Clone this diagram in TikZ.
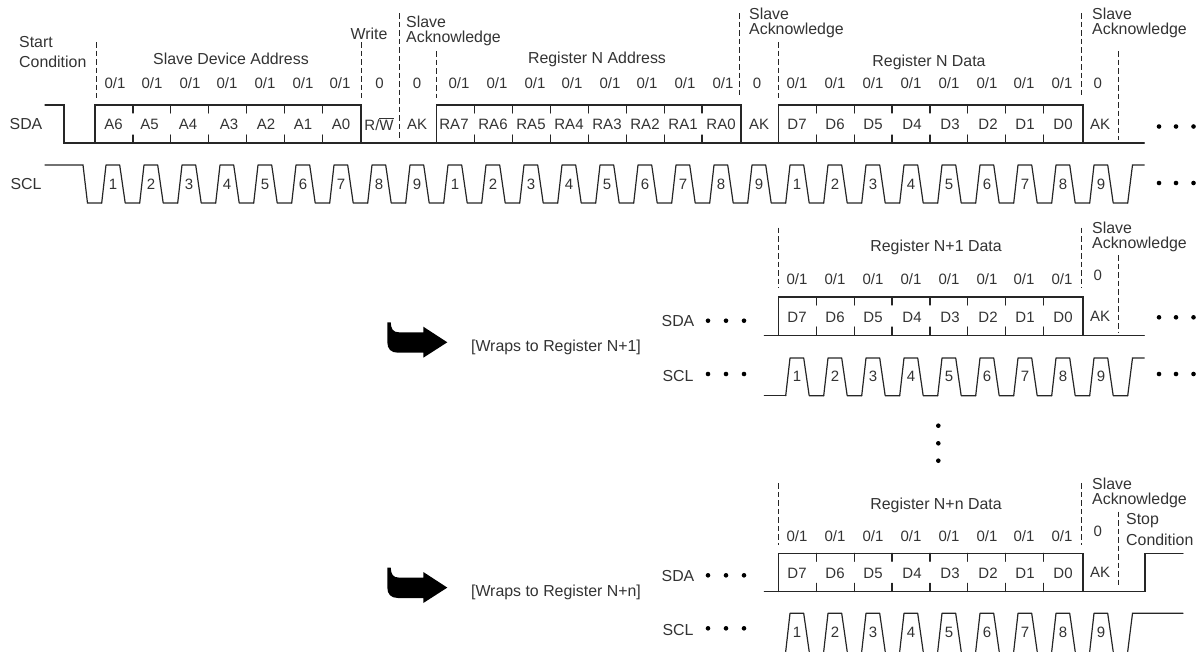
\documentclass[tikz,border=0pt]{standalone}
\usepackage{fontspec}
\setmainfont{Liberation Sans}
\begin{document}
\begin{tikzpicture}[
    x=1pt,y=-1pt,
    wave/.style={line width=1.2pt,black!85,line cap=round},
    guide/.style={line width=.8pt,black!85,dash pattern=on 5.5pt off 3pt},
    lbl/.style={inner sep=0pt,text=black!80,font=\fontsize{15}{15}\selectfont},
    head/.style={inner sep=0pt,text=black!80,font=\fontsize{15.9}{15.9}\selectfont},
    ack/.style={head,anchor=west},
    dot/.style={circle,fill=black,inner sep=0pt,minimum size=4.6pt}
  ]
    \useasboundingbox (0,0) rectangle (1196,651);

    % SDA framed bytes: left/right edge, number of ticks, high level
    \foreach \l/\r/\n/\hi in {95/361/6/105,436.7/741/7/105,778.3/1083/7/105,778.3/1083/7/297,778.3/1083/7/553.3} {
      \draw[wave] (\l,\hi+38.2)--(\l,\hi)--(\r,\hi)--(\r,\hi+38.2);
      \foreach \i in {1,...,\n} {
        \draw[wave] (\l+37.9*\i,\hi)--++(0,8);
        \draw[wave] (\l+37.9*\i,\hi+30)--++(0,8.2);
      }
    }
    \draw[wave] (45,105)--(64,105)--(64,143)--(1144.3,143);
    \draw[wave] (764.3,335.7)--(1144.3,335.7);
    \draw[wave] (764.3,591.7)--(1145,591.7)--(1145,553.3)--(1183,553.3);

    % SCL clocks
    \draw[wave] (45,165)--(83,165)--(87.5,203)--(101.7,203);
    \foreach \n [count=\k from 0] in {1,2,3,4,5,6,7,8,9,1,2,3,4,5,6,7,8,9,1,2,3,4,5,6,7,8,9} {
      \pgfmathsetmacro{\xa}{101.7+38*\k}
      \draw[wave,line join=round] (\xa,203)--(\xa+4.3,165)--(\xa+18,165)--(\xa+23.5,203)--(\xa+38,203);
      \node[lbl] (clka\k) at (\xa+11.3,184.5) {\n};
    }
    \draw[wave] (1127.7,203)--(1132.5,165)--(1144.3,165);
    \draw[wave] (764.3,395.7)--(785.7,395.7);
    \foreach \n [count=\k from 0] in {1,...,9} {
      \pgfmathsetmacro{\xa}{785.7+38*\k}
      \draw[wave,line join=round] (\xa,395.7)--(\xa+4.3,358)--(\xa+18,358)--(\xa+23.5,395.7)--(\xa+38,395.7);
      \node[lbl] (clkb\k) at (\xa+11.3,376.5) {\n};
      \draw[wave,line join=round] (\xa,651.5)--(\xa+4.3,613.3)--(\xa+18,613.3)--(\xa+23.5,651.5);
      \node[lbl] (clkc\k) at (\xa+11.3,632) {\n};
    }
    \draw[wave] (1127.7,395.7)--(1132.5,358)--(1144.3,358);
    \draw[wave] (1127.7,651.5)--(1132.5,613.3)--(1183,613.3);

    % dashed guides
    \foreach \x/\a/\b in {96/42/98,361/42/98,399.5/13/140,436.7/51/98,739/13/96,778.5/42/98,1081.3/13/95,1118/51/140,
        778.5/227.7/288,1081.3/227.7/288,1118/255/332,778.5/483.3/545,1081.3/483.3/545,1118/511.7/586.7} {
      \draw[guide] (\x,\a)--(\x,\b);
    }

    % bit values
    \foreach \x [count=\i] in {115,152,190,227,265,303,340,459,497,535,572,610,647,685,723,797,835,873,911,949,987,1024,1062} {
      \node[lbl] (bita\i) at (\x,83) {0/1};
    }
    \foreach \x [count=\i] in {797,835,873,911,949,987,1024,1062} {
      \node[lbl] (bitb\i) at (\x,279) {0/1};
      \node[lbl] (bitc\i) at (\x,535.7) {0/1};
    }
    \foreach \x/\y [count=\i] in {379.5/83,417/83,757/83,1097.7/83,1097.7/275.7,1097.7/531.7} {
      \node[lbl] (zero\i) at (\x,\y) {0};
    }

    % bit names
    \foreach \x/\t [count=\i] in {113.5/A6,149.5/A5,188/A4,229/A3,266/A2,303/A1,341/A0,417/AK,
        454/RA7,493/RA6,531/RA5,569/RA4,607/RA3,645/RA2,683/RA1,721/RA0,759/AK,1100/AK} {
      \node[lbl] (nama\i) at (\x,124) {\t};
    }
    \node[lbl] (rw) at (379,124) {R/$\overline{\mbox{W}}$};
    \foreach \y [count=\j] in {124,317,573} {
      \foreach \x/\t [count=\i] in {797/D7,835/D6,873/D5,912/D4,950/D3,988/D2,1025/D1,1063/D0} {
        \node[lbl] (dat\j\i) at (\x,\y) {\t};
      }
    }
    \node[lbl] (ak2) at (1100,316) {AK};
    \node[lbl] (ak3) at (1100,572) {AK};

    % headings
    \node[head,anchor=west] (start) at (19,42) {Start};
    \node[head,anchor=west] (cond) at (19,62) {Condition};
    \node[head] (write) at (369,34) {Write};
    \node[head] (sda) at (26,124) {SDA};
    \node[head] (scl) at (26,184) {SCL};
    \node[head] (devaddr) at (231,59) {Slave Device Address};
    \node[head] (regaddr) at (597,59) {Register N Address};
    \node[head] (regn) at (929,62) {Register N Data};
    \node[head] (regb) at (936,247.7) {Register N+1 Data};
    \node[head] (regc) at (936,505.7) {Register N+n Data};
    \foreach \x/\y [count=\i] in {406/22,749/14,1092/14,1092/227.7,1092/484.3} {
      \node[ack] (slave\i) at (\x,\y) {Slave};
      \node[ack] (ackn\i) at (\x,\y+16.5) {Acknowledge};
    }
    \node[ack] (stop) at (1126,521) {Stop};
    \node[ack] (stopc) at (1126,540) {Condition};
    \node[head] (wrapb) at (556,347.3) {[Wraps to Register N+1]};
    \node[head] (wrapc) at (556,592.3) {[Wraps to Register N+n]};
    \node[head] (sdab) at (678,320.7) {SDA};
    \node[head] (sclb) at (678,376) {SCL};
    \node[head] (sdac) at (678,576) {SDA};
    \node[head] (sclc) at (678,630) {SCL};

    % continuation dots
    \foreach \x/\y [count=\i] in {1159/126.5,1176/126.5,1193.5/126.5,1159/183,1176/183,1193.5/183,
        1159/317.3,1176/317.3,1193.5/317.3,1159/374,1176/374,1193.5/374,
        708/320.7,726/320.7,744/320.7,708/374,726/374,744/374,
        708/575.3,726/575.3,744/575.3,708/628.3,726/628.3,744/628.3,
        938.3/425.7,938.3/443.3,938.3/460.7} {
      \node[dot] (dot\i) at (\x,\y) {};
    }

    % wrap arrows
    \foreach \dy in {0,245.3} {
      \fill[black,shift={(0,\dy)}] (387.3,322.3)--(390.7,322.3) .. controls (391,329) and (393,332.3) .. (399,332.3)
        --(423.3,332.3)--(423.3,326.7)--(447.3,342.3)--(423.3,357.7)--(423.3,352.7)--(398,352.7)
        .. controls (391,352.7) and (387.3,349) .. (387.3,342)--cycle;
    }
  \end{tikzpicture}
\end{document}
